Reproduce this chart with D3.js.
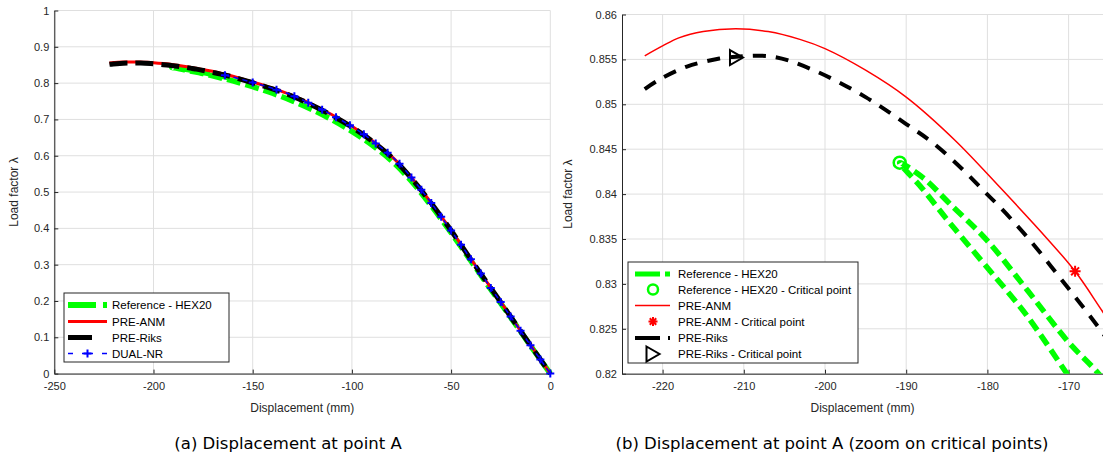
<!DOCTYPE html>
<html>
<head>
<meta charset="utf-8">
<script src="https://cdn.jsdelivr.net/npm/d3@7"></script>
<style>
  body { margin: 0; background: #fff; }
  svg { display: block; }
  .tick text { font-family: "Liberation Sans", Arial, sans-serif; font-size: 11px; fill: #262626; }
</style>
</head>
<body>
<svg id="fig" width="1103" height="464"></svg>
<script>
// ---- data (displacement mm, load factor) ----
var leftXTicks = [-250, -200, -150, -100, -50, 0];
var leftYTicks = [0, 0.1, 0.2, 0.3, 0.4, 0.5, 0.6, 0.7, 0.8, 0.9, 1];
var zoomXTicks = [-220, -210, -200, -190, -180, -170];
var zoomYTicks = [0.82, 0.825, 0.83, 0.835, 0.84, 0.845, 0.85, 0.855, 0.86];

// Reference HEX20, loading branch (0 -> peak)
var refLoading = [[0,0],[-10,0.077],[-20,0.155],[-30,0.232],[-40,0.310],[-50,0.388],[-60,0.462],
  [-70,0.530],[-80,0.586],[-90,0.630],[-100,0.667],[-110,0.699],[-120,0.727],[-130,0.751],
  [-140,0.772],[-150,0.790],[-160,0.806],[-165,0.813],[-170.2,0.8200],[-175,0.8263],
  [-177.2,0.8288],[-180,0.8318],[-183.9,0.8360],[-185,0.8372],[-188,0.8406],[-190.8,0.8435]];
// Reference HEX20, branch after the peak
var refUnloading = [[-190.8,0.8435],[-187.9,0.8418],[-184.6,0.8389],[-180.1,0.8349],[-175,0.8292],
  [-170,0.8235],[-166.3,0.8200],[-162,0.8150],[-160,0.8125]];
var preAnm = [[-222.2,0.8554],[-220,0.8565],[-218,0.8574],[-215,0.8581],[-211,0.8584],[-207,0.8581],
  [-203,0.8572],[-200,0.8562],[-195,0.8538],[-190,0.8508],[-184,0.8460],[-178.4,0.8407],
  [-172.5,0.8349],[-169.2,0.8314],[-165.8,0.8269],[-160,0.819],[-150,0.803],[-140,0.786],
  [-130,0.766],[-120,0.741],[-110,0.713],[-100,0.681],[-90,0.643],[-80,0.598],[-70,0.540],
  [-60,0.470],[-50,0.395],[-40,0.315],[-30,0.237],[-20,0.158],[-10,0.079],[0,0]];
var preRiks = [[-222.2,0.8517],[-220.3,0.8528],[-217,0.8542],[-213,0.8551],[-210.9,0.8553],
  [-206.4,0.8553],[-201.4,0.8538],[-195,0.8508],[-190,0.8478],[-186.7,0.8457],[-183,0.8427],
  [-180.5,0.8404],[-178.4,0.8385],[-174.8,0.8349],[-170.2,0.8297],[-166.1,0.8249],[-160,0.817],
  [-150,0.801],[-140,0.784],[-130,0.764],[-120,0.739],[-110,0.711],[-100,0.679],[-90,0.641],
  [-80,0.596],[-70,0.538],[-60,0.469],[-50,0.394],[-40,0.314],[-30,0.236],[-20,0.157],
  [-10,0.078],[0,0]];
var dualNr = [[-164,0.822],[-150,0.802],[-138,0.782],[-129,0.764],[-122,0.746],[-115,0.727],
  [-108,0.706],[-101,0.684],[-94,0.659],[-88,0.634],[-82,0.608],[-76,0.578],[-70,0.540],
  [-65,0.506],[-60,0.470],[-55,0.432],[-50,0.394],[-45,0.355],[-40,0.315],[-35,0.276],
  [-30,0.236],[-25,0.197],[-20,0.157],[-15,0.118],[-10,0.078],[-5,0.039],[0,0]];
var refCrit = [-190.8, 0.8435];
var anmCrit = [-169.2, 0.8314];
var riksCrit = [-210.9, 0.8552];

var svg = d3.select("#fig");
svg.append("rect").attr("width", 1103).attr("height", 464).attr("fill", "#fff");

var FONT = "'Liberation Sans', Arial, sans-serif";
var AXIS = "#262626";
var GRID = "#dfdfdf";

function fmt(d) { return String(+d.toFixed(3)); }

function drawAxes(x, y, xTicks, yTicks, ylabX) {
  var x0 = x.range()[0], x1 = x.range()[1];
  var y0 = y.range()[0], y1 = y.range()[1];
  var g = svg.append("g");
  // grid
  g.selectAll("line.gx").data(xTicks).join("line")
    .attr("x1", d => x(d)).attr("x2", d => x(d)).attr("y1", y0).attr("y2", y1)
    .attr("stroke", GRID).attr("stroke-width", 1);
  g.selectAll("line.gy").data(yTicks).join("line")
    .attr("x1", x0).attr("x2", x1).attr("y1", d => y(d)).attr("y2", d => y(d))
    .attr("stroke", GRID).attr("stroke-width", 1);

  var ax = svg.append("g").attr("transform", "translate(0," + y0 + ")")
    .call(d3.axisBottom(x).tickValues(xTicks).tickFormat(fmt).tickSizeInner(-4).tickSizeOuter(0).tickPadding(9));
  var ay = svg.append("g").attr("transform", "translate(" + x0 + ",0)")
    .call(d3.axisLeft(y).tickValues(yTicks).tickFormat(fmt).tickSizeInner(-4).tickSizeOuter(0).tickPadding(5));
  [ax, ay].forEach(a => {
    a.select(".domain").attr("stroke", AXIS);
    a.selectAll(".tick line").attr("stroke", AXIS);
  });

  svg.append("text").attr("x", (x0 + Math.min(x1, 1103)) / 2).attr("y", 412)
    .attr("text-anchor", "middle").attr("font-family", FONT).attr("font-size", 12).attr("fill", AXIS)
    .text("Displacement (mm)");
  svg.append("text").attr("transform", "translate(" + ylabX + "," + ((y0 + y1) / 2) + ") rotate(-90)")
    .attr("text-anchor", "middle").attr("font-family", FONT).attr("font-size", 12).attr("fill", AXIS)
    .text("Load factor \u03bb");
}

function plotLine(g, x, y, data, color, width, dash) {
  var line = d3.line().x(d => x(d[0])).y(d => y(d[1])).curve(d3.curveCatmullRom.alpha(0.5));
  g.append("path").datum(data).attr("d", line)
    .attr("fill", "none").attr("stroke", color).attr("stroke-width", width)
    .attr("stroke-dasharray", dash || null).attr("stroke-linejoin", "round");
}

function plusMarker(g, cx, cy, r, color, w) {
  g.append("path").attr("d", "M" + (cx - r) + "," + cy + "H" + (cx + r) + "M" + cx + "," + (cy - r) + "V" + (cy + r))
    .attr("stroke", color).attr("stroke-width", w).attr("fill", "none");
}
function starMarker(g, cx, cy, r, color, w) {
  var k = r * 0.72;
  g.append("path").attr("d",
    "M" + (cx - r) + "," + cy + "H" + (cx + r) + "M" + cx + "," + (cy - r) + "V" + (cy + r) +
    "M" + (cx - k) + "," + (cy - k) + "L" + (cx + k) + "," + (cy + k) +
    "M" + (cx - k) + "," + (cy + k) + "L" + (cx + k) + "," + (cy - k))
    .attr("stroke", color).attr("stroke-width", w).attr("fill", "none");
}
function triMarker(g, cx, cy, color) {
  g.append("path").attr("d", "M" + (cx - 6.5) + "," + (cy - 7.5) + "L" + (cx + 6.5) + "," + cy + "L" + (cx - 6.5) + "," + (cy + 7.5) + "Z")
    .attr("stroke", color).attr("stroke-width", 2).attr("fill", "none").attr("stroke-linejoin", "miter");
}

// ================= (a) full curve =================
var xa = d3.scaleLinear().domain([-250, 0]).range([54.3, 550.3]);
var ya = d3.scaleLinear().domain([0, 1]).range([373.6, 10.5]);
drawAxes(xa, ya, leftXTicks, leftYTicks, 18);

var ga = svg.append("g");
plotLine(ga, xa, ya, refLoading.concat(refUnloading.slice(1)), "#00ff00", 5.5, "14,5");
plotLine(ga, xa, ya, preAnm, "#ff0000", 3);
plotLine(ga, xa, ya, preRiks, "#000000", 5, "18,8");
plotLine(ga, xa, ya, dualNr, "#0000ff", 1.5, "5,4");
dualNr.forEach(d => plusMarker(ga, xa(d[0]), ya(d[1]), 4, "#0000ff", 2));

// legend (a)
var la = svg.append("g");
la.append("rect").attr("x", 64).attr("y", 293).attr("width", 165).attr("height", 69)
  .attr("fill", "#fff").attr("stroke", AXIS).attr("stroke-width", 1);
var legA = ["Reference - HEX20", "PRE-ANM", "PRE-Riks", "DUAL-NR"];
var rowA = [305, 321.5, 337.5, 353.5];
la.append("path").attr("d", "M68," + rowA[0] + "H107").attr("stroke", "#00ff00").attr("stroke-width", 6).attr("stroke-dasharray", "28,7");
la.append("path").attr("d", "M68," + rowA[1] + "H107").attr("stroke", "#ff0000").attr("stroke-width", 3);
la.append("path").attr("d", "M68," + rowA[2] + "H92").attr("stroke", "#000").attr("stroke-width", 5);
la.append("path").attr("d", "M68," + rowA[3] + "H107").attr("stroke", "#0000ff").attr("stroke-width", 1.5).attr("stroke-dasharray", "5,9,11,9,5");
plusMarker(la, 87.5, rowA[3], 4, "#0000ff", 2);
la.selectAll("text").data(legA).join("text")
  .attr("x", 112).attr("y", (d, i) => rowA[i] + 4)
  .attr("font-family", FONT).attr("font-size", 11.5).attr("fill", "#000").text(d => d);

// ================= (b) zoom on critical points =================
var xb = d3.scaleLinear().domain([-225, -160]).range([622, 1149.8]);
var yb = d3.scaleLinear().domain([0.82, 0.86]).range([373.7, 14.5]);
drawAxes(xb, yb, zoomXTicks, zoomYTicks, 572);

svg.append("clipPath").attr("id", "clipb").append("rect")
  .attr("x", 622).attr("y", 14.5).attr("width", 528).attr("height", 359.2);
var gb = svg.append("g").attr("clip-path", "url(#clipb)");
plotLine(gb, xb, yb, refLoading.concat(refUnloading.slice(1)), "#00ff00", 5.5, "12,6");
plotLine(gb, xb, yb, preAnm, "#ff0000", 1.5);
plotLine(gb, xb, yb, preRiks, "#000000", 4, "13,10");
var gm = svg.append("g");
gm.append("circle").attr("cx", xb(refCrit[0])).attr("cy", yb(refCrit[1])).attr("r", 6)
  .attr("fill", "none").attr("stroke", "#00ff00").attr("stroke-width", 2.5);
starMarker(gm, xb(anmCrit[0]), yb(anmCrit[1]), 5.5, "#ff0000", 2);
triMarker(gm, xb(riksCrit[0]), yb(riksCrit[1]), "#000");

// legend (b)
var lb = svg.append("g");
lb.append("rect").attr("x", 628).attr("y", 262).attr("width", 230).attr("height", 101)
  .attr("fill", "#fff").attr("stroke", AXIS).attr("stroke-width", 1);
var legB = ["Reference - HEX20", "Reference - HEX20 - Critical point", "PRE-ANM",
  "PRE-ANM - Critical point", "PRE-Riks", "PRE-Riks - Critical point"];
var rowB = [274, 289.5, 305.5, 321.5, 338, 354];
lb.append("path").attr("d", "M635," + rowB[0] + "H670").attr("stroke", "#00ff00").attr("stroke-width", 5).attr("stroke-dasharray", "25,5");
lb.append("circle").attr("cx", 653).attr("cy", rowB[1]).attr("r", 5).attr("fill", "none").attr("stroke", "#00ff00").attr("stroke-width", 2.5);
lb.append("path").attr("d", "M635," + rowB[2] + "H670").attr("stroke", "#ff0000").attr("stroke-width", 1.5);
starMarker(lb, 653, rowB[3], 4.5, "#ff0000", 2);
lb.append("path").attr("d", "M635," + rowB[4] + "H670").attr("stroke", "#000").attr("stroke-width", 4).attr("stroke-dasharray", "25,8");
triMarker(lb, 653, rowB[5], "#000");
lb.selectAll("text").data(legB).join("text")
  .attr("x", 678).attr("y", (d, i) => rowB[i] + 4)
  .attr("font-family", FONT).attr("font-size", 11.5).attr("fill", "#000").text(d => d);

// ---- captions ----
svg.append("text").attr("x", 288).attr("y", 449).attr("text-anchor", "middle")
  .attr("font-family", "'DejaVu Sans', sans-serif").attr("font-size", 16.5).attr("fill", "#000")
  .text("(a) Displacement at point A");
svg.append("text").attr("x", 832).attr("y", 449).attr("text-anchor", "middle")
  .attr("font-family", "'DejaVu Sans', sans-serif").attr("font-size", 16.5).attr("fill", "#000")
  .text("(b) Displacement at point A (zoom on critical points)");
</script>
</body>
</html>
